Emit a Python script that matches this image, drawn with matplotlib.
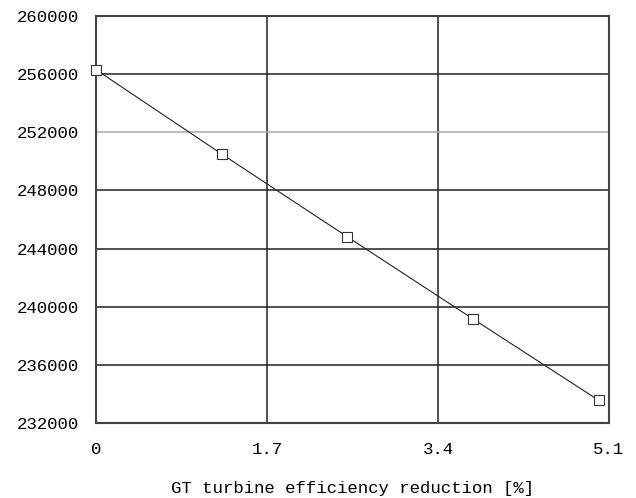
import matplotlib.pyplot as plt

# data
reduction = [0, 1.25, 2.5, 3.75, 5.0]
value = [256300, 250500, 244800, 239150, 233550]

x_ticks = [0, 1.7, 3.4, 5.1]
x_tick_labels = ['0', '1.7', '3.4', '5.1']
y_ticks = [232000, 236000, 240000, 244000, 248000, 252000, 256000, 260000]

plt.rcParams['font.family'] = ['Liberation Mono', 'DejaVu Sans Mono']

fig = plt.figure(figsize=(6.36, 4.98), dpi=100)
ax = fig.add_axes([0.151, 0.1506, 0.8065, 0.8174])

ax.plot(reduction, value, color='#222222', linewidth=0.8,
        marker='s', markersize=6.5, markerfacecolor='white',
        markeredgecolor='#333333', markeredgewidth=0.8, zorder=3,
        clip_on=False)

ax.set_xlim(0, 5.1)
ax.set_ylim(232000, 260000)
ax.set_xticks(x_ticks)
ax.set_xticklabels(x_tick_labels)
ax.set_yticks(y_ticks)
ax.tick_params(length=0, labelsize=12.5)
ax.tick_params(axis='x', pad=14)
ax.tick_params(axis='y', pad=12)

ax.grid(True, color='#222222', linewidth=1.1)
# the 252000 line is drawn lighter
for val, gl in zip(y_ticks, ax.get_ygridlines()):
    if val == 252000:
        gl.set_color('#aaaaaa')

for sp in ax.spines.values():
    sp.set_color('#444444')
    sp.set_linewidth(1.5)

ax.set_xlabel('GT turbine efficiency reduction [%]', fontsize=12.5, labelpad=17)

fig.savefig('out.png', dpi=100)
